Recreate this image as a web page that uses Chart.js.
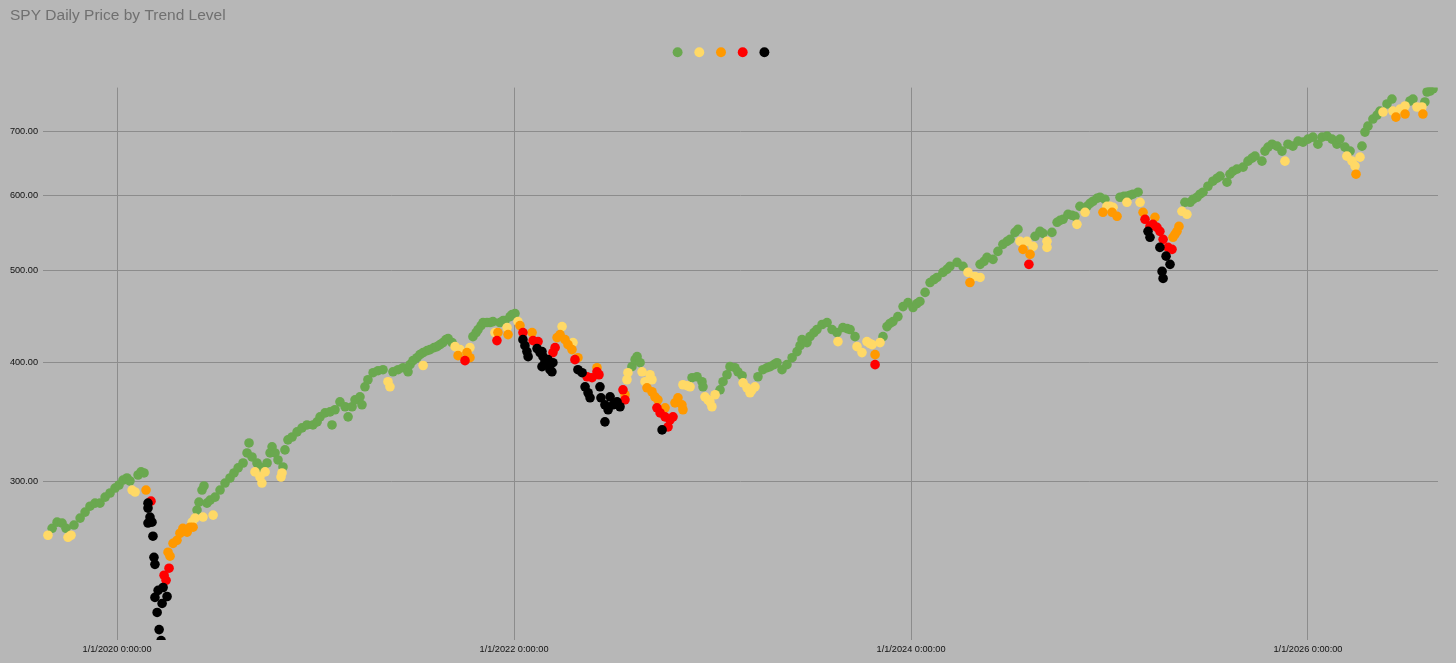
<!DOCTYPE html>
<html>
<head>
<meta charset="utf-8">
<title>SPY Daily Price by Trend Level</title>
<script src="https://cdn.jsdelivr.net/npm/chart.js@4.4.1/dist/chart.umd.min.js"></script>
<style>
  html, body { margin: 0; padding: 0; background: #b7b7b7; }
  #wrap { width: 1456px; height: 663px; }
</style>
</head>
<body>
<div id="wrap"><canvas id="chart" width="1456" height="663"></canvas></div>
<script>
// Dates as fractional years, prices, trend level per point
const years = [
  2019.652, 2019.673, 2019.698, 2019.723, 2019.743, 2019.753, 2019.768, 2019.783, 2019.814, 2019.839,
  2019.864, 2019.889, 2019.914, 2019.940, 2019.965, 2019.990, 2020.010, 2020.030, 2020.050, 2020.076,
  2020.091, 2020.065, 2020.106, 2020.121, 2020.136, 2020.146, 2020.156, 2020.171, 2020.156, 2020.166,
  2020.156, 2020.176, 2020.181, 2020.186, 2020.191, 2020.191, 2020.202, 2020.212, 2020.222, 2020.207,
  2020.227, 2020.232, 2020.252, 2020.237, 2020.247, 2020.262, 2020.257, 2020.267, 2020.282, 2020.302,
  2020.317, 2020.332, 2020.353, 2020.368, 2020.383, 2020.378, 2020.393, 2020.433, 2020.484, 2020.403,
  2020.413, 2020.428, 2020.438, 2020.453, 2020.469, 2020.494, 2020.519, 2020.544, 2020.569, 2020.589,
  2020.610, 2020.635, 2020.655, 2020.665, 2020.680, 2020.705, 2020.720, 2020.695, 2020.720, 2020.730,
  2020.746, 2020.756, 2020.771, 2020.781, 2020.796, 2020.811, 2020.836, 2020.826, 2020.831, 2020.846,
  2020.861, 2020.882, 2020.907, 2020.932, 2020.957, 2020.987, 2021.008, 2021.023, 2021.048, 2021.073,
  2021.083, 2021.098, 2021.123, 2021.149, 2021.164, 2021.184, 2021.199, 2021.224, 2021.234, 2021.249,
  2021.264, 2021.290, 2021.315, 2021.340, 2021.365, 2021.375, 2021.390, 2021.416, 2021.441, 2021.466,
  2021.476, 2021.491, 2021.511, 2021.526, 2021.542, 2021.542, 2021.562, 2021.577, 2021.597, 2021.612,
  2021.627, 2021.642, 2021.657, 2021.668, 2021.688, 2021.703, 2021.718, 2021.728, 2021.753, 2021.763,
  2021.778, 2021.778, 2021.793, 2021.809, 2021.819, 2021.834, 2021.844, 2021.864, 2021.879, 2021.894,
  2021.904, 2021.914, 2021.919, 2021.929, 2021.945, 2021.955, 2021.965, 2021.970, 2021.980, 2021.990,
  2022.005, 2022.020, 2022.030, 2022.045, 2022.045, 2022.055, 2022.065, 2022.071, 2022.091, 2022.096,
  2022.121, 2022.116, 2022.131, 2022.141, 2022.146, 2022.156, 2022.141, 2022.166, 2022.171, 2022.181,
  2022.191, 2022.196, 2022.196, 2022.207, 2022.217, 2022.232, 2022.242, 2022.257, 2022.272, 2022.297,
  2022.292, 2022.307, 2022.322, 2022.322, 2022.343, 2022.358, 2022.368, 2022.373, 2022.383, 2022.393,
  2022.418, 2022.418, 2022.428, 2022.433, 2022.438, 2022.458, 2022.458, 2022.474, 2022.484, 2022.499,
  2022.519, 2022.534, 2022.549, 2022.559, 2022.559, 2022.569, 2022.574, 2022.594, 2022.610, 2022.620,
  2022.635, 2022.645, 2022.660, 2022.670, 2022.685, 2022.695, 2022.695, 2022.710, 2022.720, 2022.725,
  2022.736, 2022.746, 2022.761, 2022.761, 2022.776, 2022.786, 2022.801, 2022.811, 2022.826, 2022.846,
  2022.851, 2022.851, 2022.872, 2022.887, 2022.897, 2022.922, 2022.947, 2022.952, 2022.962, 2022.977,
  2022.987, 2022.997, 2023.013, 2023.038, 2023.053, 2023.073, 2023.088, 2023.113, 2023.128, 2023.149,
  2023.154, 2023.174, 2023.189, 2023.199, 2023.214, 2023.229, 2023.254, 2023.275, 2023.290, 2023.310,
  2023.325, 2023.350, 2023.375, 2023.401, 2023.426, 2023.441, 2023.451, 2023.476, 2023.491, 2023.511,
  2023.526, 2023.552, 2023.577, 2023.602, 2023.627, 2023.632, 2023.657, 2023.678, 2023.693, 2023.718,
  2023.728, 2023.753, 2023.778, 2023.793, 2023.804, 2023.819, 2023.819, 2023.844, 2023.859, 2023.879,
  2023.894, 2023.909, 2023.934, 2023.960, 2023.985, 2024.010, 2024.030, 2024.045, 2024.071, 2024.096,
  2024.116, 2024.131, 2024.161, 2024.181, 2024.196, 2024.232, 2024.262, 2024.287, 2024.297, 2024.322,
  2024.348, 2024.348, 2024.368, 2024.383, 2024.413, 2024.438, 2024.463, 2024.484, 2024.499, 2024.524,
  2024.539, 2024.549, 2024.564, 2024.584, 2024.594, 2024.600, 2024.615, 2024.625, 2024.650, 2024.665,
  2024.685, 2024.685, 2024.710, 2024.736, 2024.751, 2024.766, 2024.791, 2024.811, 2024.826, 2024.836,
  2024.851, 2024.877, 2024.887, 2024.902, 2024.917, 2024.937, 2024.952, 2024.977, 2024.967, 2024.987,
  2025.003, 2025.013, 2025.018, 2025.038, 2025.053, 2025.073, 2025.088, 2025.088, 2025.103, 2025.118,
  2025.144, 2025.154, 2025.169, 2025.179, 2025.194, 2025.204, 2025.204, 2025.219, 2025.229, 2025.239,
  2025.254, 2025.254, 2025.270, 2025.265, 2025.270, 2025.285, 2025.295, 2025.305, 2025.315, 2025.320,
  2025.330, 2025.340, 2025.350, 2025.365, 2025.390, 2025.380, 2025.406, 2025.421, 2025.441, 2025.456,
  2025.471, 2025.496, 2025.521, 2025.542, 2025.557, 2025.592, 2025.607, 2025.622, 2025.642, 2025.673,
  2025.698, 2025.718, 2025.733, 2025.768, 2025.783, 2025.799, 2025.819, 2025.844, 2025.869, 2025.884,
  2025.899, 2025.924, 2025.950, 2025.975, 2026.000, 2026.025, 2026.050, 2026.071, 2026.096, 2026.121,
  2026.146, 2026.161, 2026.186, 2026.196, 2026.212, 2026.222, 2026.237, 2026.242, 2026.262, 2026.272,
  2026.287, 2026.302, 2026.327, 2026.348, 2026.363, 2026.378, 2026.398, 2026.423, 2026.428, 2026.443,
  2026.464, 2026.489, 2026.489, 2026.514, 2026.529, 2026.549, 2026.574, 2026.579, 2026.589, 2026.600,
  2026.615, 2026.630
];

const prices = [
  263.0, 267.5, 271.5, 270.9, 267.5, 261.7, 263.0, 269.6, 274.2, 278.2,
  282.2, 284.3, 284.3, 288.5, 291.4, 294.9, 297.1, 300.7, 302.2, 293.5,
  292.1, 300.0, 304.4, 306.7, 305.9, 293.5, 284.3, 285.7, 280.9, 274.9,
  270.9, 271.5, 262.4, 249.3, 245.1, 226.2, 218.1, 209.2, 203.7, 230.1,
  222.9, 231.7, 226.7, 238.7, 235.8, 242.8, 252.4, 250.0, 257.9, 259.8,
  264.3, 267.5, 265.0, 268.2, 268.2, 271.5, 274.2, 274.9, 276.2, 279.6,
  285.0, 293.5, 296.4, 284.3, 286.4, 288.5, 293.5, 298.5, 302.2, 305.9,
  309.7, 313.4, 321.1, 329.0, 318.0, 313.4, 310.4, 306.7, 302.9, 298.5,
  306.7, 313.4, 321.1, 325.9, 321.1, 315.7, 310.4, 302.9, 305.9, 323.5,
  331.5, 333.8, 338.0, 341.3, 343.7, 343.7, 346.3, 350.5, 353.9, 354.8,
  343.7, 356.6, 363.5, 359.2, 350.5, 359.2, 365.3, 368.0, 360.9, 377.0,
  383.5, 390.1, 392.0, 393.0, 381.7, 377.0, 391.0, 393.0, 394.9, 391.0,
  397.8, 401.7, 404.6, 407.6, 409.6, 397.0, 411.6, 412.6, 414.6, 415.6,
  417.6, 419.7, 422.7, 423.8, 419.7, 415.6, 406.6, 412.6, 401.7, 409.6,
  414.6, 404.6, 425.8, 430.0, 433.2, 437.4, 440.6, 440.6, 440.6, 441.6,
  430.0, 421.7, 430.0, 440.6, 442.7, 442.7, 435.3, 427.9, 447.0, 449.2,
  450.3, 441.6, 437.4, 430.0, 422.7, 416.6, 410.6, 405.6, 430.0, 421.7,
  420.7, 413.6, 409.6, 410.6, 405.6, 400.7, 395.9, 397.8, 402.7, 393.0,
  391.0, 399.7, 409.6, 414.6, 424.8, 427.9, 436.3, 422.7, 417.6, 419.7,
  412.6, 402.7, 404.6, 393.0, 390.1, 377.0, 386.3, 371.6, 367.1, 385.4,
  394.9, 391.0, 388.2, 377.0, 367.1, 360.9, 346.3, 356.6, 368.0, 360.9,
  363.5, 359.2, 374.3, 369.8, 365.3, 383.5, 390.1, 395.9, 402.7, 405.6,
  399.7, 391.0, 381.7, 376.1, 388.2, 383.5, 372.5, 368.0, 358.3, 365.3,
  353.9, 339.6, 358.3, 350.5, 342.1, 348.0, 350.5, 362.6, 367.1, 360.9,
  356.6, 378.9, 378.0, 377.0, 385.4, 386.3, 381.7, 377.0, 368.0, 365.3,
  363.5, 359.2, 369.8, 374.3, 381.7, 388.2, 395.9, 394.9, 391.0, 387.3,
  380.7, 376.1, 371.6, 374.3, 377.0, 386.3, 393.0, 394.9, 395.9, 397.8,
  399.7, 393.0, 397.8, 404.6, 410.6, 416.6, 422.7, 419.7, 425.8, 430.0,
  433.2, 438.5, 440.6, 433.2, 430.0, 420.7, 435.3, 434.2, 433.2, 425.8,
  415.6, 409.6, 420.7, 418.7, 417.6, 407.6, 397.8, 419.7, 425.8, 436.3,
  439.6, 441.6, 447.0, 458.0, 462.5, 456.9, 461.4, 463.7, 474.0, 485.5,
  489.1, 491.5, 497.6, 501.2, 504.9, 509.8, 504.9, 497.6, 485.5, 492.7,
  491.5, 507.4, 511.1, 516.1, 513.6, 523.6, 532.6, 536.5, 539.1, 548.3,
  552.3, 536.5, 526.2, 536.5, 507.4, 519.8, 530.0, 543.1, 549.7, 547.0,
  536.5, 528.7, 548.3, 561.9, 564.6, 566.0, 572.9, 571.5, 570.1, 559.1,
  584.1, 575.7, 584.1, 588.4, 591.3, 595.6, 597.1, 594.1, 575.7, 584.1,
  584.1, 575.7, 582.7, 570.1, 597.1, 598.5, 598.5, 589.8, 600.0, 601.5,
  604.4, 589.8, 575.7, 566.0, 549.7, 541.8, 556.3, 559.1, 568.7, 555.0,
  549.7, 528.7, 539.1, 498.8, 490.3, 517.6, 528.7, 507.4, 526.2, 541.8,
  545.7, 549.7, 556.3, 577.1, 572.9, 589.8, 589.8, 594.1, 597.1, 601.5,
  604.4, 613.2, 620.8, 625.3, 628.4, 619.3, 631.4, 636.0, 639.2, 642.3,
  651.7, 656.5, 659.7, 651.7, 667.8, 674.3, 679.1, 675.9, 667.8, 651.7,
  679.1, 675.9, 684.1, 682.5, 687.5, 690.8, 679.1, 690.8, 692.5, 687.5,
  679.1, 687.5, 674.3, 659.7, 667.8, 651.7, 643.9, 631.4, 658.1, 675.9,
  699.3, 709.5, 721.8, 728.8, 735.9, 734.1, 748.6, 757.7, 735.9, 725.2,
  739.5, 745.0, 730.6, 754.1, 757.7, 743.2, 743.2, 730.6, 752.3, 770.7,
  772.6, 776.4
];

// 0 = green, 1 = yellow, 2 = orange, 3 = red, 4 = black
const levels = [
  1,0,0,0,0,1,1,0,0,0, 0,0,0,0,0,0,0,0,0,1, 1,0,0,0,0,2,4,3,4,4, 4,4,4,4,4,4,4,4,4,4,
  4,4,4,3,3,3,2,2,2,2, 2,2,2,2,2,1,1,1,1,0, 0,0,0,0,0,0,0,0,0,0, 0,0,0,0,0,0,0,1,1,1,
  1,0,0,0,0,0,0,1,1,0, 0,0,0,0,0,0,0,0,0,0, 0,0,0,0,0,0,0,0,0,0, 0,0,0,0,1,1,0,0,0,0,
  0,0,0,0,0,1,0,0,0,0, 0,0,0,0,0,1,2,1,3,2, 1,2,0,0,0,0,0,0,0,0, 1,3,2,0,0,0,1,2,0,0,
  0,1,2,3,4,4,4,4,2,3, 3,4,4,4,4,4,4,4,4,4, 4,4,3,3,2,2,1,2,2,1, 2,3,2,4,4,4,3,4,4,3,
  2,3,3,4,4,4,4,4,4,4, 4,4,3,2,3,1,1,0,0,0, 0,1,1,2,1,1,2,2,3,2, 3,4,2,3,3,3,3,2,2,2,
  2,1,1,1,0,0,0,0,1,1, 1,1,1,0,0,0,0,0,0,0, 1,1,1,1,1,0,0,0,0,0, 0,0,0,0,0,0,0,0,0,0,
  0,0,0,0,0,1,0,0,0,0, 1,1,1,1,1,2,3,1,0,0, 0,0,0,0,0,0,0,0,0,0, 0,0,0,0,0,0,0,1,2,1,
  1,0,0,0,0,0,0,0,0,0, 0,1,2,1,3,2,1,0,0,0, 1,1,0,0,0,0,0,0,0,1, 0,1,0,0,0,0,0,0,2,1,
  1,2,1,2,0,0,0,1,0,0, 0,1,2,3,4,4,3,3,2,3, 3,4,3,4,4,4,3,4,3,2, 2,2,2,1,1,0,0,0,0,0,
  0,0,0,0,0,0,0,0,0,0, 0,0,0,0,0,0,0,0,0,1, 0,0,0,0,0,0,0,0,0,0, 0,0,0,1,0,1,1,2,1,0,
  0,0,0,0,0,1,0,0,1,2, 1,1,2,0,0,1,1,2,0,0, 0,0
];

const levelNames = ['Level 1', 'Level 2', 'Level 3', 'Level 4', 'Level 5'];
const levelColors = ['#6aa84f', '#ffd966', '#ff9900', '#ff0000', '#000000'];

const yTickValues = [300, 400, 500, 600, 700];
const xTickYears = [2020, 2022, 2024, 2026];

const FONT = 'Arial, "Liberation Sans", sans-serif';
Chart.defaults.font.family = FONT;

// one scatter series per trend level
const datasets = levelColors.map((color, lvl) => ({
    label: levelNames[lvl],
    data: years
        .map((yr, i) => ({ x: yr, y: prices[i], lvl: levels[i] }))
        .filter(p => p.lvl === lvl),
    backgroundColor: color,
    borderColor: color,
    borderWidth: 0,
    pointRadius: 4.8,
    pointHoverRadius: 4.8,
    order: levelColors.length - lvl
}));

const gridStyle = { color: '#8c8c8c', lineWidth: 1, drawTicks: false };

new Chart(document.getElementById('chart'), {
    type: 'scatter',
    data: { datasets: datasets },
    options: {
        responsive: false,
        animation: false,
        devicePixelRatio: 1,
        layout: { padding: { left: 10, right: 18, top: 0, bottom: 0 } },
        plugins: {
            title: {
                display: true,
                text: 'SPY Daily Price by Trend Level',
                align: 'start',
                color: '#707070',
                font: { size: 15.5, weight: 'normal' },
                padding: { top: 6, bottom: 16 }
            },
            legend: {
                position: 'top',
                align: 'center',
                labels: {
                    usePointStyle: true,
                    pointStyle: 'circle',
                    boxWidth: 10,
                    boxHeight: 7,
                    padding: 5.7,
                    font: { size: 12 },
                    sort: (a, b) => a.datasetIndex - b.datasetIndex,
                    generateLabels: chart => Chart.defaults.plugins.legend.labels
                        .generateLabels(chart)
                        .map(item => Object.assign(item, { text: '' }))
                }
            },
            tooltip: { enabled: false }
        },
        scales: {
            x: {
                type: 'linear',
                position: 'bottom',
                min: 2019.627,
                max: 2026.655,
                afterBuildTicks: s => { s.ticks = xTickYears.map(v => ({ value: v })); },
                afterFit: s => { s.height = 23; },
                grid: gridStyle,
                border: { display: false },
                ticks: {
                    autoSkip: false,
                    maxRotation: 0,
                    padding: 4,
                    color: '#111',
                    font: { size: 9.2 },
                    callback: v => '1/1/' + v + ' 0:00:00'
                }
            },
            // empty band between legend and plot area
            gap: {
                type: 'linear',
                position: 'top',
                display: true,
                grid: { display: false },
                border: { display: false },
                ticks: { display: false },
                afterFit: s => { s.height = 19.3; }
            },
            y: {
                type: 'logarithmic',
                min: 204,
                max: 779,
                afterBuildTicks: s => { s.ticks = yTickValues.map(v => ({ value: v })); },
                afterFit: s => { s.width = 33; },
                grid: gridStyle,
                border: { display: false },
                ticks: {
                    autoSkip: false,
                    padding: 5,
                    color: '#111',
                    font: { size: 9.2 },
                    callback: v => Number(v).toFixed(2)
                }
            }
        }
    }
});
</script>
</body>
</html>
